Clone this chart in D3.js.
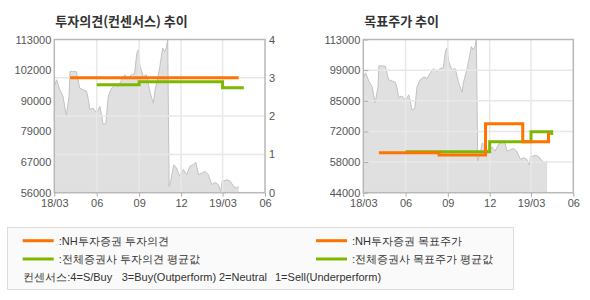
<!DOCTYPE html>
<html>
<head>
<meta charset="utf-8">
<script src="https://cdn.jsdelivr.net/npm/d3@7"></script>
<style>
  body { margin: 0; background: #fff; }
  svg text { font-family: "Liberation Sans", Arial, sans-serif; }
  .kr { font-family: "Noto Sans CJK KR", "Noto Sans", sans-serif; }
</style>
</head>
<body>
<svg id="chart" width="590" height="300"></svg>
<script>
// --------------------------------------
//  Data
// --------------------------------------

const priceDates = [
  "2018-03-01", "2018-03-06", "2018-03-13", "2018-03-20", "2018-03-27", "2018-04-02",
  "2018-04-04", "2018-04-11", "2018-04-18", "2018-04-25", "2018-05-03", "2018-05-10",
  "2018-05-14", "2018-05-17", "2018-05-24", "2018-06-01", "2018-06-08", "2018-06-12",
  "2018-06-15", "2018-06-21", "2018-06-26", "2018-07-03", "2018-07-11", "2018-07-18",
  "2018-07-25", "2018-08-01", "2018-08-08", "2018-08-15", "2018-08-22", "2018-08-27",
  "2018-08-30", "2018-09-03", "2018-09-10", "2018-09-17", "2018-09-25", "2018-10-02",
  "2018-10-05", "2018-10-12", "2018-10-16", "2018-10-22", "2018-10-26", "2018-10-30",
  "2018-11-02", "2018-11-05", "2018-11-09", "2018-11-15", "2018-11-21", "2018-11-28",
  "2018-12-06", "2018-12-13", "2018-12-20", "2018-12-27", "2019-01-02", "2019-01-08",
  "2019-01-15", "2019-01-22", "2019-01-29", "2019-02-06", "2019-02-13", "2019-02-20",
  "2019-02-25", "2019-02-28", "2019-03-11", "2019-03-18", "2019-03-25", "2019-04-01",
  "2019-04-05"
];
const priceValues = [
  95500, 98000, 94300, 91800, 84500, 91800,
  101100, 101100, 101000, 94900, 94300, 93700,
  90600, 86900, 87500, 85600, 88100, 84400,
  81300, 81900, 91800, 94900, 96100, 95500,
  98000, 99900, 98600, 99900, 100200, 107900,
  109200, 103000, 99200, 99900, 93000, 89300,
  93700, 99200, 103000, 109800, 108500, 109800,
  112900, 58300, 60800, 66400, 65200, 62100,
  64600, 62700, 65800, 66400, 67300, 62700,
  63300, 63900, 62700, 59000, 59800, 59000,
  56500, 60200, 60800, 60200, 58300, 57700,
  58300
];

// 투자의견 (0-4 scale)
const nhOpinionDates = ["2018-04-04", "2019-04-05"];
const nhOpinionValues = [3, 3];
const avgOpinionDates = ["2018-06-01", "2018-09-01", "2019-03-01", "2019-04-16"];
const avgOpinionValues = [2.82, 2.9, 2.74, 2.74];

// 목표주가
const nhTargetDates = ["2018-04-04", "2018-08-13", "2018-11-22", "2019-02-11", "2019-04-08"];
const nhTargetValues = [62000, 61000, 75000, 67000, 71000];
const avgTargetDates = ["2018-06-01", "2018-12-01", "2019-03-01", "2019-04-15"];
const avgTargetValues = [62500, 67000, 71500, 70000];

const monthTicks = ["2018-03-01", "2018-06-01", "2018-09-01", "2018-12-01", "2019-03-01", "2019-06-01"];
const monthLabels = ["18/03", "06", "09", "12", "19/03", "06"];

const leftPriceLabels = ["56000", "67000", "79000", "90000", "102000", "113000"];
const rightPriceLabels = ["44000", "58000", "72000", "85000", "99000", "113000"];
const opinionTicks = [0, 1, 2, 3, 4];

// --------------------------------------
//  Setup
// --------------------------------------

const parse = d3.timeParse("%Y-%m-%d");
const ORANGE = "#ff7300";
const GREEN = "#7cb800";

const svg = d3.select("#chart");

const zip = (ds, vs) => ds.map((d, i) => ({ date: parse(d), value: vs[i] }));
const prices = zip(priceDates, priceValues);

const plotTop = 39.5, plotBottom = 192.7;

function drawPanel(cfg) {
  const x = d3.scaleTime()
    .domain([parse(monthTicks[0]), parse(monthTicks[monthTicks.length - 1])])
    .range([cfg.left, cfg.right]);

  const y = d3.scaleLinear()
    .domain(cfg.priceDomain)
    .range([plotBottom, plotTop]);

  const g = svg.append("g");

  // price area
  g.append("path")
    .datum(prices)
    .attr("fill", "#e0e0e0")
    .attr("d", d3.area().x(d => x(d.date)).y0(plotBottom).y1(d => y(d.value)));

  g.append("path")
    .datum(prices)
    .attr("fill", "none")
    .attr("stroke", "#c2c2c2")
    .attr("stroke-width", 1)
    .attr("d", d3.line().x(d => x(d.date)).y(d => y(d.value)));

  // grid
  g.append("g")
    .selectAll("line")
    .data(monthTicks.slice(1, -1))
    .join("line")
    .attr("x1", d => x(parse(d))).attr("x2", d => x(parse(d)))
    .attr("y1", plotTop).attr("y2", plotBottom)
    .attr("stroke", "#e8e8e8")
    .attr("stroke-width", 1.5);

  g.append("g")
    .selectAll("line")
    .data(cfg.hGrid)
    .join("line")
    .attr("x1", cfg.left).attr("x2", cfg.right)
    .attr("y1", d => d).attr("y2", d => d)
    .attr("stroke", "#e8e8e8")
    .attr("stroke-width", 1.5);

  // bottom axis
  const xAxis = g.append("g")
    .attr("transform", `translate(0,${plotBottom})`)
    .call(d3.axisBottom(x)
      .tickValues(monthTicks.map(parse))
      .tickFormat((d, i) => monthLabels[i])
      .tickSize(4)
      .tickPadding(3));
  xAxis.select(".domain").remove();
  xAxis.selectAll("line").attr("stroke", "#aaa");
  xAxis.selectAll("text").attr("fill", "#555").attr("font-size", 11);

  // left price axis
  const step = (cfg.priceDomain[1] - cfg.priceDomain[0]) / (cfg.priceLabels.length - 1);
  const yAxis = g.append("g")
    .attr("transform", `translate(${cfg.left},0)`)
    .call(d3.axisLeft(y)
      .tickValues(cfg.priceLabels.map((l, i) => cfg.priceDomain[0] + i * step))
      .tickFormat((d, i) => cfg.priceLabels[i])
      .tickSizeInner(cfg.innerTicks ? -5 : 0)
      .tickSizeOuter(0)
      .tickPadding(3));
  yAxis.select(".domain").remove();
  yAxis.selectAll("line").attr("stroke", "#aaa");
  yAxis.selectAll("text").attr("fill", "#555").attr("font-size", 11);

  // frame
  g.append("rect")
    .attr("x", cfg.left).attr("y", plotTop)
    .attr("width", cfg.right - cfg.left).attr("height", plotBottom - plotTop)
    .attr("fill", "none")
    .attr("stroke", "#b8b8b8")
    .attr("stroke-width", 1.5);

  // title
  svg.append("text")
    .attr("class", "kr")
    .attr("x", cfg.left + 1).attr("y", 26)
    .attr("font-size", 13)
    .attr("font-weight", "bold")
    .attr("fill", "#333")
    .text(cfg.title);

  return { g, x, y };
}

// --------------------------------------
//  Left: 투자의견
// --------------------------------------

const opY = d3.scaleLinear().domain([0, 4]).range([plotBottom, plotTop]);

const leftP = drawPanel({
  left: 54.3, right: 265,
  priceDomain: [56000, 113000],
  priceLabels: leftPriceLabels,
  hGrid: [1, 2, 3].map(opY),
  innerTicks: false,
  title: "투자의견(컨센서스) 추이"
});

const rAxis = leftP.g.append("g")
  .attr("transform", "translate(265,0)")
  .call(d3.axisRight(opY)
    .tickValues(opinionTicks)
    .tickFormat(d3.format("d"))
    .tickSize(0)
    .tickPadding(4));
rAxis.select(".domain").remove();
rAxis.selectAll("text").attr("fill", "#555").attr("font-size", 11);

const opLine = d3.line()
  .x(d => leftP.x(d.date)).y(d => opY(d.value))
  .curve(d3.curveStepAfter);

leftP.g.append("path")
  .datum(zip(avgOpinionDates, avgOpinionValues))
  .attr("fill", "none").attr("stroke", GREEN).attr("stroke-width", 3)
  .attr("d", opLine);

leftP.g.append("path")
  .datum(zip(nhOpinionDates, nhOpinionValues))
  .attr("fill", "none").attr("stroke", ORANGE).attr("stroke-width", 3)
  .attr("d", opLine);

// --------------------------------------
//  Right: 목표주가
// --------------------------------------

const rightDomain = [44000, 113000];
const rStep = (rightDomain[1] - rightDomain[0]) / 5;
const rY = d3.scaleLinear().domain(rightDomain).range([plotBottom, plotTop]);

const rightP = drawPanel({
  left: 363.3, right: 573.3,
  priceDomain: rightDomain,
  priceLabels: rightPriceLabels,
  hGrid: [1, 2, 3, 4].map(i => rY(rightDomain[0] + i * rStep)),
  innerTicks: true,
  title: "목표주가 추이"
});

const tpLine = d3.line()
  .x(d => rightP.x(d.date)).y(d => rightP.y(d.value))
  .curve(d3.curveStepAfter);

rightP.g.append("path")
  .datum(zip(avgTargetDates, avgTargetValues))
  .attr("fill", "none").attr("stroke", GREEN).attr("stroke-width", 3)
  .attr("d", tpLine);

rightP.g.append("path")
  .datum(zip(nhTargetDates, nhTargetValues))
  .attr("fill", "none").attr("stroke", ORANGE).attr("stroke-width", 3)
  .attr("d", tpLine);

// --------------------------------------
//  Legend
// --------------------------------------

const legend = svg.append("g").attr("class", "kr");

legend.append("rect")
  .attr("x", 7.5).attr("y", 227.5)
  .attr("width", 506).attr("height", 62)
  .attr("fill", "#fafafa")
  .attr("stroke", "#dcdcdc");

const legendItems = [
  { x: 22.7, y: 240.7, color: ORANGE, label: ":NH투자증권 투자의견" },
  { x: 22.7, y: 259, color: GREEN, label: ":전체증권사 투자의견 평균값" },
  { x: 316, y: 240.7, color: ORANGE, label: ":NH투자증권 목표주가" },
  { x: 316, y: 259, color: GREEN, label: ":전체증권사 목표주가 평균값" }
];

legendItems.forEach(it => {
  legend.append("line")
    .attr("x1", it.x).attr("x2", it.x + 31)
    .attr("y1", it.y).attr("y2", it.y)
    .attr("stroke", it.color).attr("stroke-width", 3);
  legend.append("text")
    .attr("x", it.x + 36).attr("y", it.y + 4)
    .attr("font-size", 11).attr("fill", "#333")
    .text(it.label);
});

const consensusNotes = [
  { x: 23.3, t: "컨센서스:4=S/Buy" },
  { x: 121.7, t: "3=Buy(Outperform)" },
  { x: 219, t: "2=Neutral" },
  { x: 275, t: "1=Sell(Underperform)" }
];

legend.selectAll("text.note")
  .data(consensusNotes)
  .join("text")
  .attr("class", "note")
  .attr("x", d => d.x).attr("y", 281)
  .attr("font-size", 11).attr("fill", "#333")
  .text(d => d.t);
</script>
</body>
</html>
